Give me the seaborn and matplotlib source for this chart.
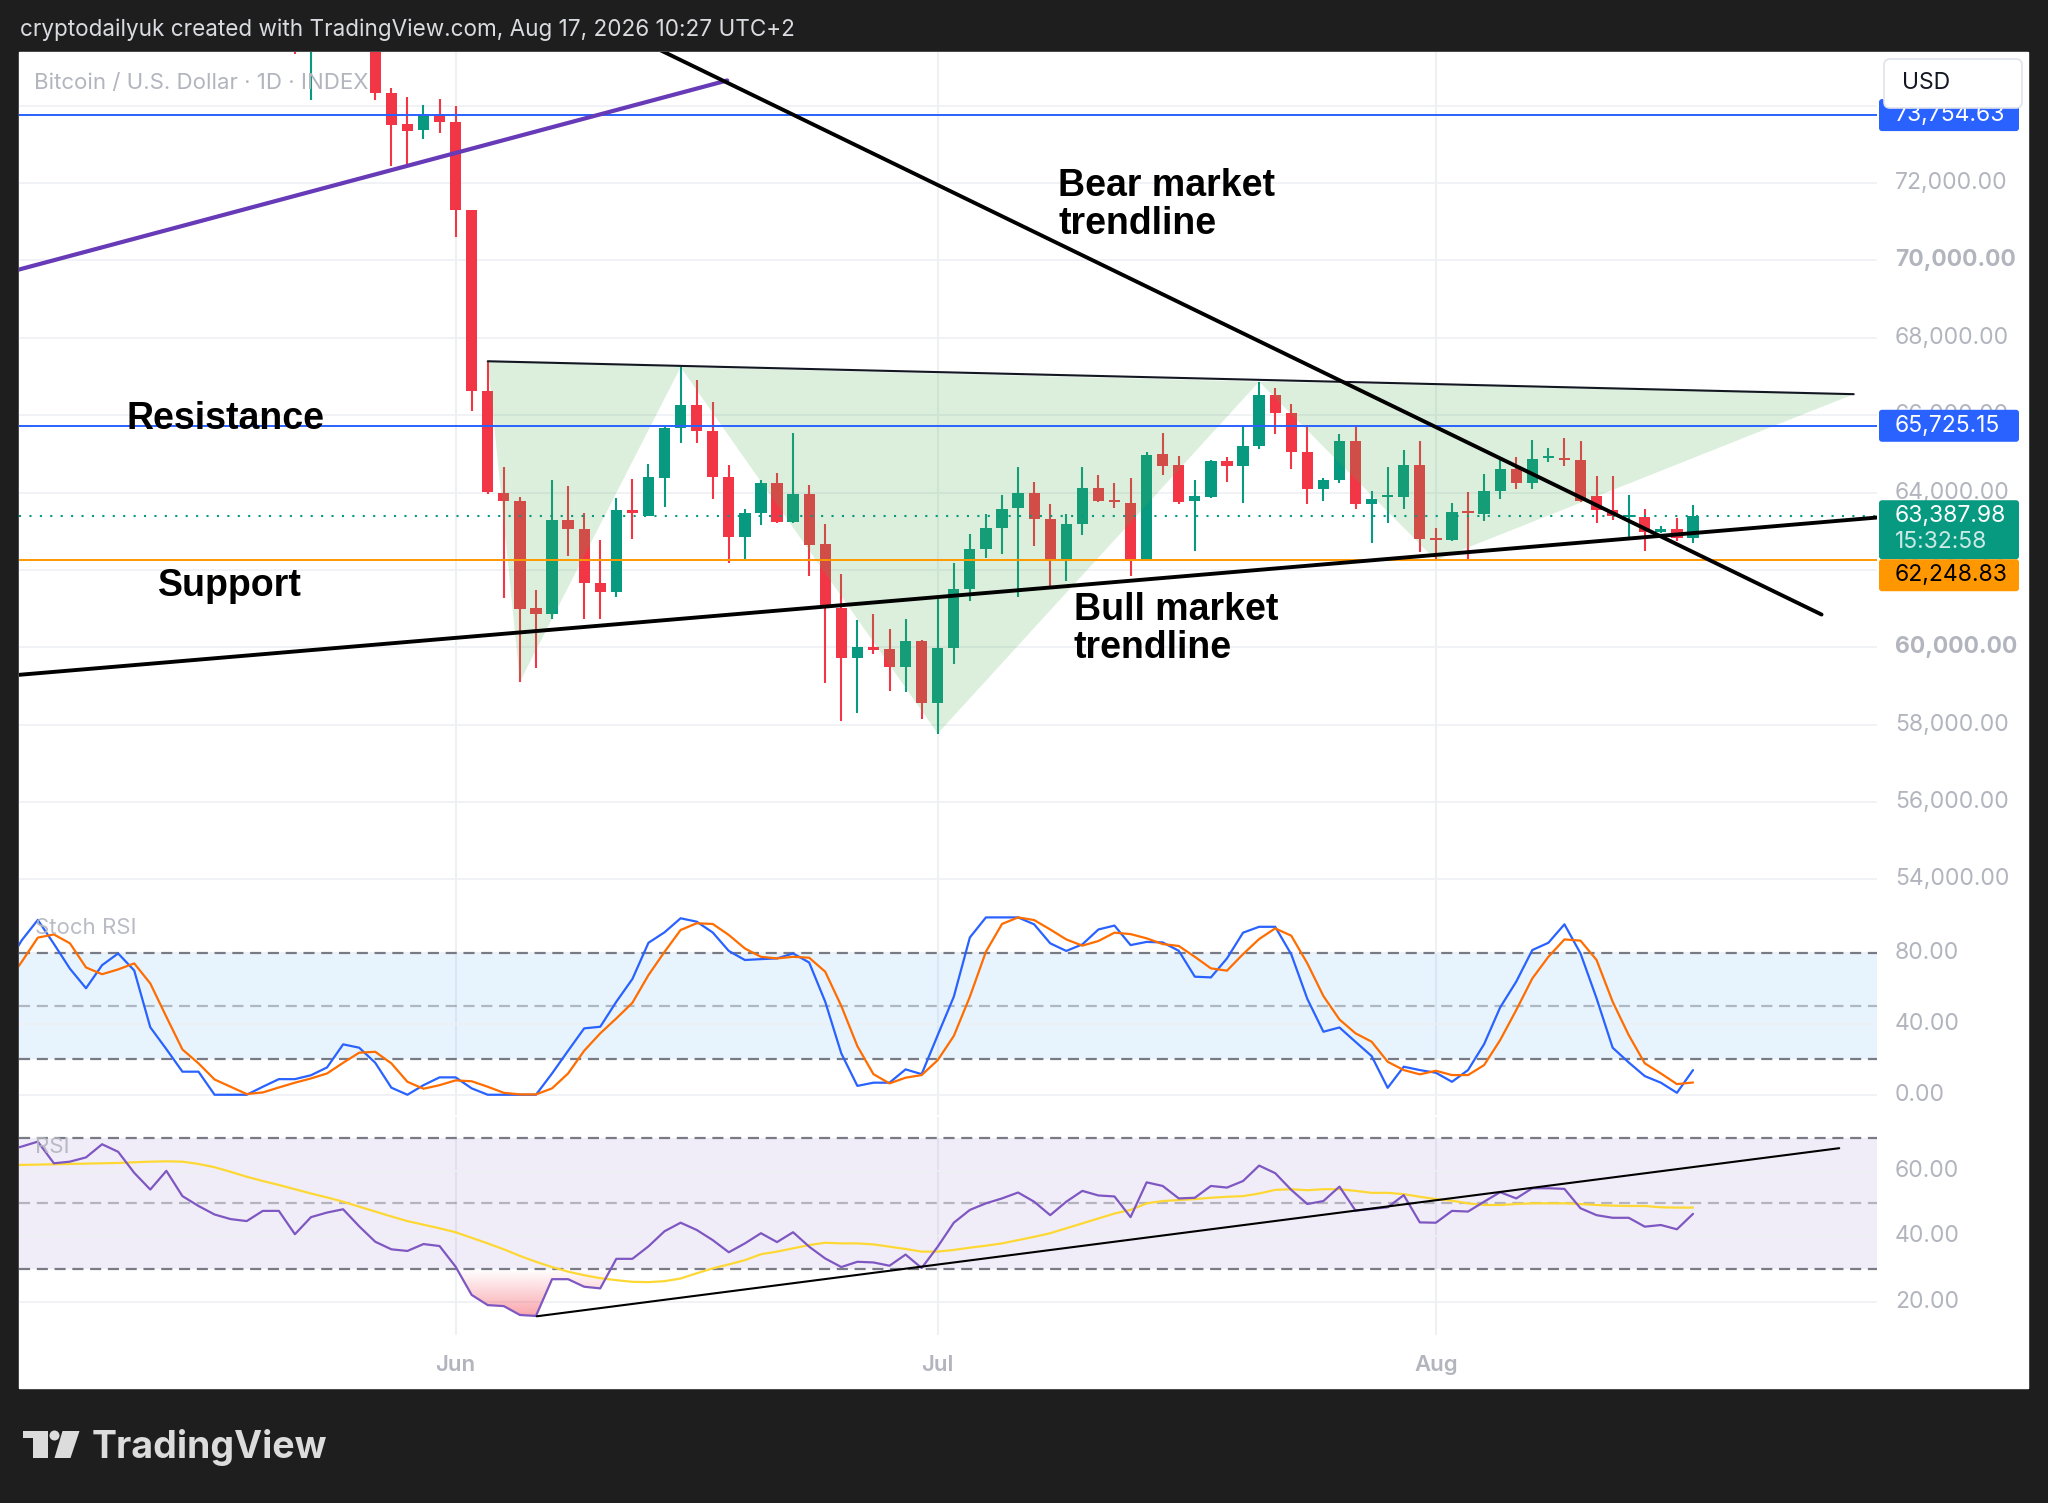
"""
btc_tradingview_recreation.py
Recreates a TradingView BTC daily chart (candles, Stoch RSI, RSI) with seaborn/matplotlib.
"""

import numpy as np
import matplotlib
matplotlib.use("Agg")
import matplotlib.pyplot as plt
import matplotlib.colors as mcolors
import matplotlib.transforms as mtransforms
from matplotlib.patches import FancyBboxPatch, Polygon, Circle
import seaborn as sns

# ─── DATA (day 0 = Jun 1) ────────────────────────────────────────────────────
candle_days = list(range(-10, 78))
opens = [77500, 75600, 76400, 77100, 76700, 76100, 74337, 73517, 73371, 73775,
         73584, 71303, 66618, 64000, 63775, 61022, 60854, 63292, 63045, 61663,
         61438, 63560, 63393, 64383, 65656, 66250, 65587, 64408, 62859, 63479,
         64236, 63238, 63952, 62661, 61009, 59735, 60020, 59950, 59503, 60166,
         58556, 59985, 61504, 62550, 63091, 63597, 63992, 63305, 62250, 63194,
         64121, 63803, 63717, 62250, 64996, 64704, 63777, 63889, 64807, 64678,
         65193, 66523, 66068, 65039, 64095, 64318, 65339, 63709, 63880, 63889,
         64721, 62834, 62765, 63520, 63434, 64035, 64610, 64249, 64900, 64890,
         64850, 63923, 63546, 63374, 63374, 62980, 63048, 62834]
highs = [78000, 76900, 77800, 77900, 77300, 76400, 74450, 74225, 74022, 74169,
         74000, 71303, 67393, 64652, 63888, 61472, 64337, 64169, 63461, 62786,
         63866, 64339, 64727, 65700, 67240, 66921, 66336, 64710, 63582, 64314,
         64512, 65544, 64202, 63178, 61887, 60699, 60871, 60467, 60725, 60180,
         61315, 62173, 62928, 63434, 63949, 64661, 64266, 63708, 63451, 64661,
         64464, 64249, 64378, 65047, 65536, 64953, 64335, 64830, 64918, 65751,
         66866, 66694, 66283, 65751, 64378, 65519, 65682, 64035, 64661, 65107,
         65339, 63091, 63734, 64018, 64481, 64876, 64919, 65347, 65150, 65408,
         65322, 64438, 64438, 63949, 63563, 63134, 63348, 63666]
lows = [75330, 74140, 75900, 76300, 75800, 74140, 72449, 72404, 73124, 73292,
        70596, 66101, 63966, 61281, 59112, 59472, 60742, 62371, 60742, 60742,
        61300, 62790, 63393, 63625, 65286, 65286, 63840, 62188, 62274, 63160,
        63210, 63220, 61844, 59090, 58100, 58315, 59821, 58875, 58850, 58143,
        57772, 59573, 61203, 62319, 62422, 61289, 62619, 61504, 61718, 62894,
        63760, 63589, 61847, 62250, 64447, 63692, 62490, 63870, 64266, 63734,
        65124, 65519, 64610, 63709, 63777, 64249, 63580, 62705, 63220, 63563,
        62464, 62250, 62740, 62250, 63263, 63837, 64103, 64103, 64790, 64696,
        63760, 63203, 63288, 62808, 62490, 62960, 62748, 62705]
closes = [76000, 76400, 77100, 76700, 76100, 74337, 73494, 73348, 73775, 73584,
          71303, 66618, 64022, 63775, 61000, 60854, 63292, 63045, 61663, 61438,
          63550, 63479, 64400, 65673, 66250, 65587, 64408, 62859, 63479, 64236,
          63238, 63952, 62644, 61009, 59735, 60020, 59933, 59503, 60166, 58556,
          59985, 61504, 62550, 63091, 63580, 63992, 63305, 62250, 63194, 64121,
          63777, 63760, 62250, 64979, 64696, 63752, 63906, 64807, 64678, 65210,
          66523, 66051, 65039, 64095, 64318, 65339, 63692, 63837, 63920, 64721,
          62808, 62765, 63503, 63480, 64035, 64610, 64249, 64876, 64940, 64850,
          63777, 63546, 63391, 63400, 62980, 63048, 62834, 63388]

ind_days = list(range(-28, 78))
stoch_k = [72, 87, 98.5, 85, 71, 60, 73, 79.6, 70, 38, 25.7, 13, 13, 0, 0, 0,
           4.5, 8.8, 8.8, 11, 15.4, 28.4, 26.5, 18, 4, 0, 5.4, 9.8, 9.8, 3.6,
           0, 0, 0, 0, 12, 24.8, 37.4, 38.3, 52.4, 65.2, 85.6, 91.5, 99.4, 97.5,
           91.4, 81, 75.9, 76.4, 76.8, 79.6, 74.5, 52.4, 23.3, 5, 6.8, 6.8, 14.3,
           11.6, 33.6, 55.2, 88.6, 99.9, 99.9, 99.9, 96, 85.3, 81, 84.7, 93.1,
           95.3, 84.3, 86.1, 85.8, 81.1, 66.5, 66.1, 76.8, 91.3, 94.6, 94.6,
           79.1, 54, 35.5, 37.9, 29.8, 21.8, 3.9, 15.8, 13.9, 12.4, 7.3, 13.9,
           28.5, 49.2, 63.7, 81.5, 85.6, 96, 79.6, 54.3, 26.5, 18.2, 10.5, 6.8,
           1.1, 13.9]
stoch_d = [62, 74.9, 88.5, 90.3, 85.3, 71.7, 67.9, 70.6, 74, 62.7, 43.9, 25.5,
           17.7, 8.6, 4.5, 0.4, 1.3, 4.1, 6.8, 9.2, 12, 18, 23.7, 24.2, 17.7,
           7.3, 3.4, 5.4, 8.1, 7.6, 4.5, 1.1, 0.2, 0.2, 3.6, 12, 24.8, 34.6, 43,
           51.8, 67.4, 80.5, 92.8, 96.6, 96.2, 90, 82.4, 77.7, 76.8, 77.7, 77.2,
           69.3, 50, 27.4, 11.6, 6.4, 9.6, 11.1, 19.5, 33.1, 55.2, 80.6, 96.2,
           99.9, 98.4, 93.1, 87.5, 84, 86.6, 91.3, 90.5, 88.1, 84.9, 83.8, 77.7,
           71.2, 69.9, 79.2, 87.7, 93.7, 89.6, 74, 55.6, 42.4, 34.6, 29.9, 18.6,
           13.9, 11.5, 13.5, 11.1, 11.1, 16.7, 30.8, 47.7, 65.5, 77.7, 87.5,
           86.8, 75.9, 52.4, 33.6, 17.7, 12, 6, 6.9]
rsi = [66, 67.3, 68.8, 62.2, 62.7, 64.0, 68.0, 65.7, 59.3, 54.2, 59.9, 52.2,
       49.2, 46.6, 45.2, 44.6, 47.7, 47.7, 40.6, 45.8, 47.2, 48.2, 43.0, 38.3,
       36.0, 35.5, 37.6, 37.0, 30.7, 22.1, 19.0, 18.7, 16.0, 15.7, 26.9, 26.9,
       24.6, 24.1, 33.1, 33.1, 36.9, 41.5, 44.1, 41.9, 38.8, 35.1, 37.8, 40.9,
       38.2, 41.2, 36.8, 33.2, 30.6, 32.2, 32.0, 31.0, 34.4, 30.3, 36.8, 44.1,
       48.0, 50.0, 51.5, 53.3, 50.5, 46.4, 50.5, 53.8, 52.4, 52.1, 45.8, 56.4,
       55.3, 51.5, 51.7, 55.3, 54.8, 56.8, 61.5, 59.2, 54.1, 49.8, 50.7, 55.1,
       47.8, 48.3, 48.8, 52.5, 44.2, 44.1, 47.7, 47.5, 50.5, 53.4, 51.5, 54.6,
       54.6, 54.4, 48.5, 46.4, 45.6, 45.6, 42.9, 43.4, 42.1, 46.8]
rsi_ma = [61.6, 61.7, 61.8, 61.9, 62.0, 62.1, 62.2, 62.3, 62.5, 62.7, 62.8,
          62.7, 62.0, 61.0, 59.6, 58.1, 56.8, 55.6, 54.3, 53.0, 51.8, 50.5,
          49.0, 47.5, 46.0, 44.6, 43.5, 42.4, 41.2, 39.5, 37.8, 36.0, 34.0,
          32.2, 30.6, 29.2, 28.1, 27.2, 26.6, 26.1, 26.0, 26.3, 27.1, 28.7,
          30.2, 31.4, 32.7, 34.5, 35.3, 36.3, 37.3, 38.0, 37.8, 37.8, 37.5,
          36.8, 36.1, 35.3, 35.3, 35.8, 36.5, 37.1, 37.8, 38.8, 39.8, 40.9,
          42.4, 43.9, 45.4, 46.9, 48.0, 50.0, 50.7, 51.0, 51.3, 51.7, 52.0,
          52.2, 53.0, 54.1, 54.3, 54.0, 54.3, 54.3, 53.8, 53.2, 53.2, 52.8,
          52.0, 51.3, 50.8, 50.0, 49.5, 49.5, 49.8, 50.0, 50.0, 50.0, 49.8,
          49.5, 49.3, 49.2, 49.2, 48.8, 48.7, 48.7]

# horizontal levels and last price
level_blue = [73754.63, 65725.15]
level_orange = 62248.83
last_price = 63387.98
countdown = "15:32:58"

# drawings: (day, price) endpoints
purple_days, purple_prices = [-27.2, 16.9], [69760, 74650]
bear_days, bear_prices = [10.0, 85.0], [75985, 60847]
bull_days, bull_prices = [-27.2, 88.5], [59288, 63356]
top_days, top_prices = [2, 87], [67393, 66542]
pattern_days = [2, 4, 14, 30, 50, 61, 87]
pattern_prices = [67393, 59112, 67240, 57772, 66866, 62250, 66542]
rsi_trend_days, rsi_trend_vals = [5.05, 86.1], [15.6, 66.8]

price_ticks = [74000, 72000, 70000, 68000, 66000, 64000, 62000, 60000, 58000, 56000, 54000]
bold_ticks = [70000, 60000]
stoch_ticks = [80, 40, 0]
rsi_ticks = [60, 40, 20]
month_days = [0, 30, 61]
month_labels = ["Jun", "Jul", "Aug"]

# ─── STYLE ───────────────────────────────────────────────────────────────────
W, H = 2048, 1503
BG_DARK = "#1e1e1e"
UP, DOWN = "#089981", "#f23645"
BLUE, ORANGE = "#2962ff", "#ff9800"
GRID = "#eef0f4"
AXIS_TXT = "#b2b5be"
XLIM = (-27.17, 88.45)

sns.set_theme(style="white")
plt.rcParams["font.family"] = ["Inter", "DejaVu Sans"]


def frac(left, top, right, bottom):
    return [left / W, 1 - bottom / H, (right - left) / W, (bottom - top) / H]


def clean(ax):
    for s in ax.spines.values():
        s.set_visible(False)
    ax.set_xticks([])
    ax.set_yticks([])
    ax.set_facecolor("white")


def right_labels(ax, ticks, bold=()):
    tr = mtransforms.blended_transform_factory(ax.transAxes, ax.transData)
    for t in ticks:
        ax.axhline(t, color=GRID, lw=1.2, zorder=0)
        ax.text(1.0097, t, f"{t:,.2f}", transform=tr, ha="left", va="center",
                fontsize=16.5, color=AXIS_TXT, clip_on=False,
                fontweight="bold" if t in bold else "normal")


fig = plt.figure(figsize=(W / 100, H / 100), dpi=100, facecolor=BG_DARK)

bg = fig.add_axes([0, 0, 1, 1])
bg.set_xlim(0, W)
bg.set_ylim(H, 0)
bg.axis("off")
bg.add_patch(plt.Rectangle((19, 52), 2028 - 19, 1388 - 52, color="white", zorder=0))

ax_p = fig.add_axes(frac(19, 52, 1877, 900))
ax_s = fig.add_axes(frac(19, 900, 1877, 1115))
ax_r = fig.add_axes(frac(19, 1117, 1877, 1335))
for a in (ax_p, ax_s, ax_r):
    clean(a)
    for d in month_days:
        a.axvline(d, color=GRID, lw=1.5, zorder=0)

# ─── PRICE PANE ──────────────────────────────────────────────────────────────
o, h, l, c = map(np.array, (opens, highs, lows, closes))
cd = np.array(candle_days)
cols = np.where(c >= o, UP, DOWN)
body_lo = np.minimum(o, c)
body_h = np.maximum(np.abs(c - o), 55)
ax_p.vlines(cd, l, h, colors=cols, lw=1.5, zorder=2)
ax_p.bar(cd, body_h, bottom=body_lo, width=0.7, color=cols, zorder=3, linewidth=0)

pts = list(zip(pattern_days, pattern_prices))
for tri in (pts[0:3], pts[2:5], pts[4:7]):
    ax_p.add_patch(Polygon(tri, closed=True, facecolor="#4caf50", alpha=0.2,
                           edgecolor="none", zorder=4))

for lv in level_blue:
    ax_p.axhline(lv, color=BLUE, lw=1.4, zorder=5)
ax_p.axhline(level_orange, color=ORANGE, lw=1.4, zorder=5)
ax_p.axhline(last_price, color=UP, lw=1.5, ls=(0, (1, 4)), zorder=5)

sns.lineplot(x=top_days, y=top_prices, ax=ax_p, color="#131722", lw=1.5, zorder=6)
sns.lineplot(x=purple_days, y=purple_prices, ax=ax_p, color="#673ab7", lw=3.0, zorder=6)
sns.lineplot(x=bear_days, y=bear_prices, ax=ax_p, color="black", lw=2.8, zorder=6)
sns.lineplot(x=bull_days, y=bull_prices, ax=ax_p, color="black", lw=2.8, zorder=6)

ann = dict(fontsize=27, fontweight="bold", color="black", ha="left", va="center",
           family=["Liberation Sans", "DejaVu Sans"], zorder=7, linespacing=1.08)
ax_p.text(37.5, 71440, "Bear market\ntrendline", **ann)
ax_p.text(38.45, 60475, "Bull market\ntrendline", **ann)
ax_p.text(-20.45, 65900, "Resistance", **ann)
ax_p.text(-18.5, 61580, "Support", **ann)

ax_p.set_xlim(*XLIM)
ax_p.set_ylim(53470, 75385)
right_labels(ax_p, price_ticks, bold_ticks)

# ─── STOCH RSI PANE ──────────────────────────────────────────────────────────
ax_s.axhspan(20, 80, color="#2196f3", alpha=0.1, lw=0, zorder=0)
for v, a in ((80, 1.0), (50, 0.5), (20, 1.0)):
    ax_s.axhline(v, color="#787b86", alpha=a, lw=1.6, ls=(0, (5, 3)), zorder=1)
sns.lineplot(x=ind_days, y=stoch_k, ax=ax_s, color=BLUE, lw=1.6, zorder=3)
sns.lineplot(x=ind_days, y=stoch_d, ax=ax_s, color="#ff6d00", lw=1.6, zorder=3)
ax_s.set_xlim(*XLIM)
ax_s.set_ylim(-11.4, 109.7)
right_labels(ax_s, stoch_ticks)

# ─── RSI PANE ────────────────────────────────────────────────────────────────
ax_r.axhspan(30, 70, color="#7e57c2", alpha=0.1, lw=0, zorder=0)
for v, a in ((70, 1.0), (50, 0.5), (30, 1.0)):
    ax_r.axhline(v, color="#787b86", alpha=a, lw=1.6, ls=(0, (5, 3)), zorder=1)
rsi_arr = np.array(rsi)
zone = ax_r.fill_between(ind_days, rsi_arr, 30, where=rsi_arr < 30,
                         interpolate=True, color="none", lw=0)
grad = np.zeros((256, 1, 4))
grad[..., :3] = mcolors.to_rgb(DOWN)
grad[..., 3] = np.linspace(0.5, 0.0, 256)[:, None]
im = ax_r.imshow(grad, extent=[XLIM[0], XLIM[1], 14, 30], origin="lower",
                 aspect="auto", zorder=2)
im.set_clip_path(zone.get_paths()[0], transform=ax_r.transData)
sns.lineplot(x=ind_days, y=rsi_ma, ax=ax_r, color="#fdd835", lw=1.6, zorder=3)
sns.lineplot(x=ind_days, y=rsi, ax=ax_r, color="#7e57c2", lw=1.6, zorder=4)
sns.lineplot(x=rsi_trend_days, y=rsi_trend_vals, ax=ax_r, color="black", lw=1.5, zorder=5)
ax_r.set_xlim(*XLIM)
ax_r.set_ylim(9.9, 76.3)
right_labels(ax_r, rsi_ticks)

# ─── OVERLAY (legend texts, price boxes, header/footer) ─────────────────────
ov = fig.add_axes([0, 0, 1, 1])
ov.set_xlim(0, W)
ov.set_ylim(H, 0)
ov.axis("off")
ov.patch.set_alpha(0)


def py(ax, val):
    return H - ax.transData.transform((0, val))[1]


def px(ax, day):
    return ax.transData.transform((day, 0))[0]


def price_box(y_top, height, color):
    ov.add_patch(FancyBboxPatch((1879, y_top), 140, height,
                                boxstyle="round,pad=0,rounding_size=3",
                                facecolor=color, edgecolor="none", zorder=5))


box_txt = dict(fontsize=16.5, ha="left", va="center", zorder=6)
for lv in level_blue:
    yc = py(ax_p, lv)
    price_box(yc - 16, 32, BLUE)
    ov.text(1895, yc, f"{lv:,.2f}", color="white", **box_txt)

y_last = py(ax_p, last_price)
price_box(y_last - 16, 59, UP)
ov.text(1895, y_last, f"{last_price:,.2f}", color="white", **box_txt)
ov.text(1895, y_last + 26, countdown, color="white", alpha=0.8, **box_txt)
price_box(y_last + 43, 32, ORANGE)
ov.text(1895, y_last + 59, f"{level_orange:,.2f}", color="black", **box_txt)

ov.add_patch(FancyBboxPatch((1884, 59), 138, 49, boxstyle="round,pad=0,rounding_size=6",
                            facecolor="white", edgecolor="#e0e3eb", lw=1.2, zorder=7))
ov.text(1902, 83, "USD", fontsize=16.5, color="#131722", ha="left", va="center", zorder=8)

ov.text(34, 83, "Bitcoin / U.S. Dollar · 1D · INDEX", fontsize=16, color=AXIS_TXT,
        ha="left", va="center", zorder=8)
ov.text(35, 928, "Stoch RSI", fontsize=16, color=AXIS_TXT, alpha=0.9,
        ha="left", va="center", zorder=8)
ov.text(35, 1147, "RSI", fontsize=16, color=AXIS_TXT, alpha=0.9,
        ha="left", va="center", zorder=8)

for d, lab in zip(month_days, month_labels):
    ov.text(px(ax_r, d), 1365, lab, fontsize=16, fontweight="semibold",
            color=AXIS_TXT, ha="center", va="center")

ov.text(20, 30, "cryptodailyuk created with TradingView.com, Aug 17, 2026 10:27 UTC+2",
        fontsize=16.2, color="#d9dbe0", ha="left", va="center")

# TradingView logo
logo = "#dcdcdc"
ov.add_patch(Polygon([(23, 1431), (48, 1431), (48, 1458), (33, 1458), (33, 1438), (23, 1438)],
                     closed=True, facecolor=logo, edgecolor="none"))
ov.add_patch(Circle((54.5, 1435.5), 5, facecolor=logo, edgecolor="none"))
ov.add_patch(Polygon([(62.5, 1431), (79.5, 1431), (70.5, 1458), (54.5, 1458)],
                     closed=True, facecolor=logo, edgecolor="none"))
ov.text(92, 1458, "TradingView", fontsize=27, fontweight="bold", color=logo,
        ha="left", va="baseline")

fig.savefig("out.png", dpi=100, facecolor=BG_DARK)
plt.close(fig)
